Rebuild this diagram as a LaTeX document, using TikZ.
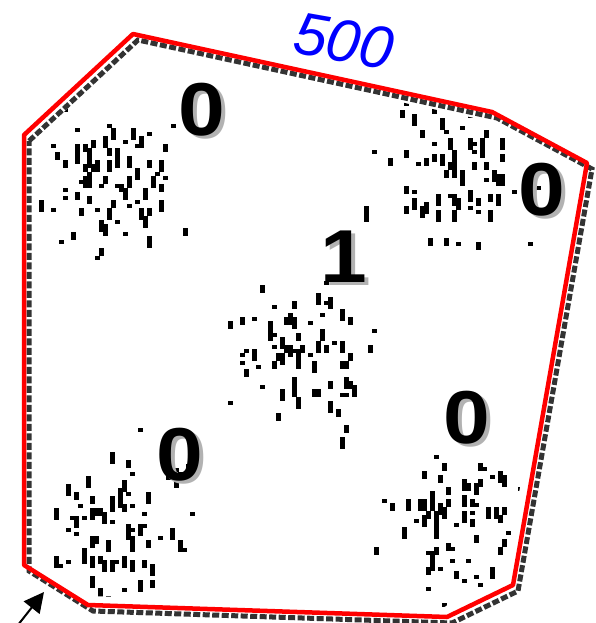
\documentclass[tikz,border=0pt]{standalone}
\usepackage{fontspec}
\setmainfont{Liberation Sans}
\usetikzlibrary{arrows.meta}
\newcommand{\shd}[1]{\makebox[0pt][l]{\hspace{3pt}\raisebox{-2.5pt}{\textcolor{black!30}{#1}}}#1}
\tikzset{
  hull/.style={draw=red, line width=4.5pt, line join=round},
  hullshadow/.style={draw=black!80, line width=5pt, dash pattern=on 7pt off 2.5pt},
  digit/.style={font=\fontsize{75}{75}\selectfont\bfseries, inner sep=0pt, xscale=1.12},
  dot/.style={fill=black}
}
\begin{document}
\begin{tikzpicture}[x=1pt,y=-1pt]
\useasboundingbox (0,0) rectangle (596,623);
% random dots, kept inside the hull
\begin{scope}
\clip (34,140) -- (136,45) -- (488,121) -- (576,168) -- (504,578) -- (444,607) -- (90,596) -- (34,560) -- cycle;
\pgfmathsetseed{31}
\foreach \cx/\cy in {115/180, 448/170, 292/345, 114/520, 450/515}{
  \foreach \i in {1,...,78}{
    \pgfmathsetmacro\dx{round((rand+rand+rand)*9)*4}
    \pgfmathsetmacro\dy{round((rand+rand+rand)*9)*4}
    \pgfmathsetmacro\h{4*random(1,3)}
    \fill[dot] (\cx+\dx,\cy+\dy) rectangle ++(4.5,\h);
  }
}
\end{scope}
% shadow of hull
\draw[hullshadow] (29,141) -- (138,40) -- (497,118) -- (592,169) -- (518,591) -- (452,623) -- (93,611) -- (29,571) -- cycle;
% hull
\draw[hull] (24,135) -- (133,34) -- (492,112) -- (587,163) -- (513,585) -- (447,617) -- (88,605) -- (24,565) -- cycle;
% labels
\node[digit] (l1) at (202,111) {\shd{0}};
\node[digit] (l2) at (542,191) {\shd{0}};
\node[digit] (l3) at (344,258) {\shd{1}};
\node[digit] (l4) at (180,456) {\shd{0}};
\node[digit] (l5) at (467,419) {\shd{0}};
\node[text=blue, font=\fontsize{60}{60}\selectfont\itshape, rotate=-10, inner sep=0pt] (w) at (344,41) {500};
% arrow
\coordinate (a0) at (14,630);
\coordinate (a1) at (44,592);
\draw[line width=2pt, -{Triangle[length=20pt,width=20pt]}] (a0) -- (a1);
\end{tikzpicture}
\end{document}
